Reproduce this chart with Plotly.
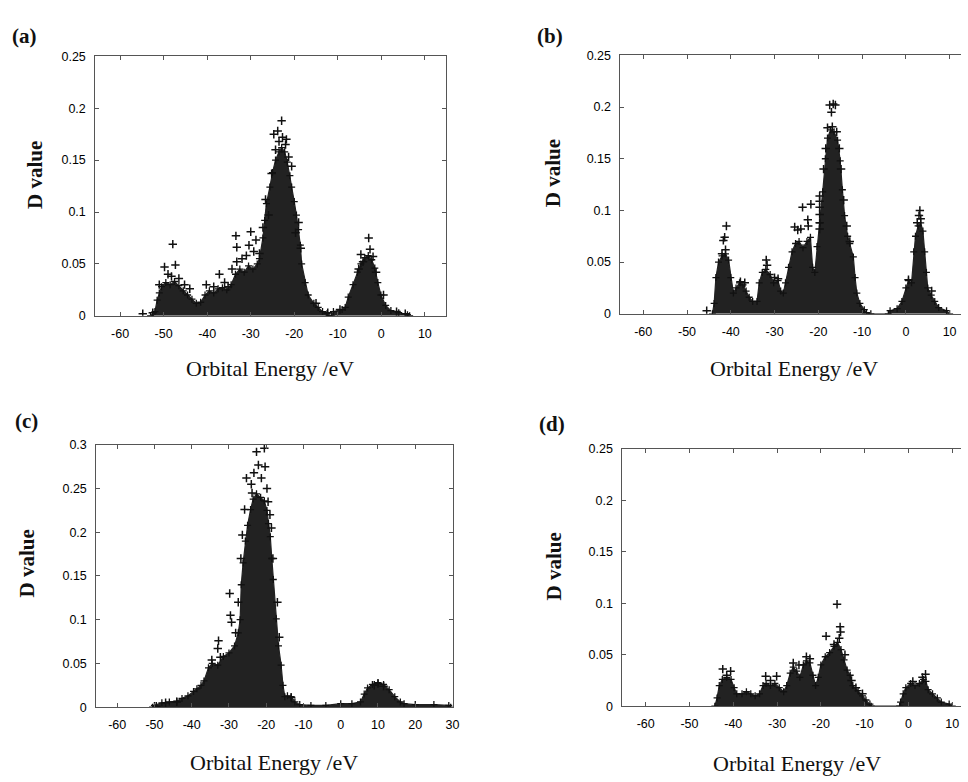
import plotly.graph_objects as go

# ---------------------------------------------------------------------------
# D value versus orbital energy, four systems (a)-(d).
# *_env_* : upper edge of the dense point cloud (energy in eV, D value)
# *_pts_* : individual points standing out above the cloud
# ---------------------------------------------------------------------------

a_env_e = [-53.0, -52.0, -51.5, -51.0, -50.5, -49.5, -48.5, -47.5, -46.5, -45.5,
           -44.5, -43.5, -42.5, -41.5, -40.5, -39.5, -38.5, -37.5, -36.5, -35.5,
           -34.5, -33.5, -32.5, -31.5, -30.5, -29.5, -28.5, -28.0, -27.2, -26.8,
           -26.4, -25.6, -25.0, -24.3, -23.5, -22.9, -22.2, -21.6, -21.0, -20.6,
           -20.0, -19.5, -19.0, -18.6, -18.3, -17.5, -16.8, -15.5, -14.5, -13.5,
           -12.5, -12.0, -11.5, -11.0, -9.0, -8.3, -7.6, -6.5, -5.5, -4.7,
           -3.8, -3.0, -2.2, -1.5, -0.8, -0.1, 1.0, 2.2, 4.0, 6.0, 6.5]
a_env_d = [0.0, 0.004, 0.015, 0.022, 0.028, 0.032, 0.030, 0.033, 0.029, 0.024,
           0.020, 0.016, 0.012, 0.013, 0.020, 0.024, 0.022, 0.026, 0.027, 0.025,
           0.030, 0.040, 0.045, 0.042, 0.048, 0.045, 0.050, 0.055, 0.075, 0.092,
           0.108, 0.124, 0.138, 0.150, 0.158, 0.162, 0.158, 0.148, 0.135, 0.124,
           0.110, 0.097, 0.083, 0.068, 0.050, 0.032, 0.020, 0.012, 0.008, 0.004,
           0.002, 0.0, 0.0, 0.004, 0.006, 0.008, 0.018, 0.030, 0.042, 0.050,
           0.056, 0.058, 0.054, 0.046, 0.032, 0.020, 0.010, 0.005, 0.003, 0.001, 0.0]
a_pts_e = [-47.9, -49.8, -47.3, -49.0, -48.2, -46.5, -45.2, -44.0, -51.0, -37.2,
           -40.2, -38.5, -36.0, -35.2, -33.4, -30.0, -28.8, -33.2, -30.4, -32.0,
           -33.2, -29.3, -28.0, -34.3, -31.0, -22.9, -24.7, -22.7, -21.3, -23.5,
           -22.0, -24.3, -20.6, -25.2, -25.9, -19.7, -26.6, -19.0, -27.2, -18.5,
           -23.8, -21.8, -2.9, -2.6, -4.7, -1.9, -4.2, -5.2, -1.2, 0.5,
           -54.8, -52.5, -15.0, -12.3, -9.5, 3.5, 5.5]
a_pts_d = [0.069, 0.047, 0.049, 0.040, 0.038, 0.036, 0.030, 0.026, 0.030, 0.040,
           0.030, 0.028, 0.032, 0.028, 0.077, 0.081, 0.073, 0.066, 0.068, 0.055,
           0.052, 0.062, 0.060, 0.045, 0.058, 0.188, 0.175, 0.172, 0.153, 0.168,
           0.165, 0.160, 0.144, 0.137, 0.097, 0.080, 0.112, 0.090, 0.085, 0.065,
           0.178, 0.170, 0.075, 0.064, 0.059, 0.057, 0.052, 0.045, 0.042, 0.020,
           0.002, 0.003, 0.012, 0.003, 0.006, 0.004, 0.002]

b_env_e = [-44.2, -43.8, -43.4, -42.8, -42.0, -41.2, -40.5, -40.0, -39.4, -38.8,
           -38.0, -37.2, -36.5, -35.8, -35.0, -34.0, -33.5, -32.8, -32.0, -31.0,
           -30.2, -29.2, -28.6, -28.0, -27.5, -26.8, -26.0, -25.2, -24.4, -23.5,
           -22.6, -21.8, -21.3, -20.8, -20.3, -19.7, -19.0, -18.4, -17.9, -17.2,
           -16.4, -15.6, -15.0, -14.5, -14.0, -13.3, -12.8, -12.0, -11.6, -11.2,
           -10.5, -9.5, -9.0, -8.0, -4.0, -3.6, -2.0, -0.9, 0.0, 0.6,
           1.3, 1.8, 2.2, 2.8, 3.4, 3.9, 4.3, 4.7, 5.0, 5.8,
           6.6, 7.5, 9.3, 10.0]
b_env_d = [0.0, 0.010, 0.035, 0.050, 0.056, 0.058, 0.052, 0.035, 0.020, 0.025,
           0.030, 0.028, 0.022, 0.016, 0.012, 0.012, 0.030, 0.040, 0.043, 0.038,
           0.030, 0.032, 0.022, 0.020, 0.030, 0.045, 0.060, 0.068, 0.070, 0.064,
           0.070, 0.074, 0.045, 0.040, 0.065, 0.088, 0.118, 0.150, 0.170, 0.178,
           0.176, 0.168, 0.148, 0.120, 0.095, 0.075, 0.068, 0.055, 0.035, 0.020,
           0.010, 0.004, 0.001, 0.0, 0.0, 0.003, 0.005, 0.012, 0.025, 0.032,
           0.030, 0.060, 0.075, 0.085, 0.088, 0.080, 0.060, 0.040, 0.025, 0.018,
           0.012, 0.006, 0.003, 0.0]
b_pts_e = [-17.4, -16.1, -17.0, -16.6, -17.9, -16.8, -15.8, -18.3, -15.2, -14.8,
           -18.8, -14.2, -13.5, -12.8, -23.6, -21.7, -22.4, -22.3, -19.7, -19.7,
           -19.7, -19.7, -19.7, -19.7, -25.4, -24.7, -24.0, -41.0, -41.7, -41.4,
           -41.2, -42.0, -31.9, -31.7, -29.2, -30.0, -37.8, -36.8, -45.5, 3.2,
           3.0, 3.4, 2.6, 5.9, 0.6]
b_pts_d = [0.202, 0.202, 0.195, 0.203, 0.180, 0.181, 0.176, 0.160, 0.160, 0.140,
           0.140, 0.110, 0.085, 0.070, 0.103, 0.106, 0.091, 0.085, 0.114, 0.109,
           0.103, 0.096, 0.088, 0.082, 0.084, 0.081, 0.082, 0.085, 0.071, 0.074,
           0.062, 0.058, 0.052, 0.047, 0.034, 0.035, 0.031, 0.030, 0.003, 0.100,
           0.095, 0.092, 0.088, 0.022, 0.033]

c_env_e = [-50.5, -50.0, -48.0, -46.0, -44.0, -42.6, -41.0, -39.5, -38.6, -37.5,
           -36.7, -35.5, -34.5, -33.0, -31.5, -30.0, -28.5, -27.5, -27.0, -26.7,
           -26.2, -25.6, -25.0, -24.2, -23.5, -22.6, -21.5, -20.5, -19.8, -19.4,
           -18.9, -18.5, -18.1, -17.3, -16.7, -16.0, -15.5, -15.0, -14.3, -13.3,
           -12.3, -11.0, -8.0, -4.0, 0.0, 3.0, 5.3, 6.3, 7.2, 8.5,
           10.0, 11.5, 13.0, 14.5, 16.0, 17.0, 20.0, 25.0, 29.0, 29.5]
c_env_d = [0.0, 0.002, 0.005, 0.006, 0.007, 0.010, 0.013, 0.018, 0.021, 0.025,
           0.030, 0.045, 0.050, 0.048, 0.058, 0.062, 0.070, 0.085, 0.100, 0.140,
           0.165, 0.190, 0.208, 0.226, 0.238, 0.244, 0.240, 0.236, 0.225, 0.210,
           0.195, 0.170, 0.146, 0.101, 0.070, 0.048, 0.025, 0.012, 0.013, 0.012,
           0.006, 0.003, 0.002, 0.002, 0.004, 0.004, 0.006, 0.015, 0.022, 0.026,
           0.028, 0.026, 0.020, 0.012, 0.006, 0.004, 0.003, 0.003, 0.002, 0.0]
c_pts_e = [-20.5, -22.6, -22.1, -20.3, -25.3, -23.3, -21.3, -24.0, -19.8, -23.8,
           -19.5, -25.8, -19.0, -26.4, -18.6, -26.8, -18.2, -29.8, -29.6, -29.3,
           -32.8, -33.0, -34.6, -32.3, -28.2, -27.5, -17.0, -16.5, -13.3, -49.5,
           -47.0, -44.0, 10.0, 9.0, 11.5]
c_pts_d = [0.296, 0.292, 0.277, 0.275, 0.262, 0.268, 0.262, 0.255, 0.250, 0.245,
           0.235, 0.226, 0.220, 0.197, 0.205, 0.170, 0.170, 0.130, 0.105, 0.097,
           0.076, 0.067, 0.054, 0.057, 0.085, 0.120, 0.120, 0.080, 0.011, 0.001,
           0.005, 0.006, 0.027, 0.025, 0.024]

d_env_e = [-44.2, -43.7, -43.2, -42.5, -41.5, -40.5, -39.8, -39.2, -38.0, -37.0,
           -36.0, -35.0, -34.0, -33.2, -32.5, -31.5, -30.5, -29.5, -28.5, -27.8,
           -27.0, -26.3, -25.5, -24.8, -24.0, -23.3, -22.5, -21.8, -21.2, -20.6,
           -20.0, -19.0, -18.0, -17.0, -16.2, -15.4, -14.7, -14.0, -13.3, -12.7,
           -11.5, -10.5, -9.7, -8.8, -8.5, -2.0, -1.8, -1.2, -0.6, 0.5,
           1.5, 2.5, 3.4, 4.0, 4.5, 5.5, 6.6, 7.5, 9.3, 10.0]
d_env_d = [0.0, 0.008, 0.020, 0.026, 0.028, 0.026, 0.018, 0.012, 0.012, 0.014,
           0.012, 0.010, 0.012, 0.020, 0.022, 0.020, 0.022, 0.018, 0.014, 0.020,
           0.032, 0.038, 0.034, 0.028, 0.040, 0.044, 0.042, 0.030, 0.020, 0.028,
           0.040, 0.048, 0.052, 0.058, 0.062, 0.055, 0.045, 0.035, 0.030, 0.020,
           0.015, 0.010, 0.006, 0.002, 0.0, 0.0, 0.004, 0.012, 0.018, 0.022,
           0.020, 0.022, 0.026, 0.024, 0.016, 0.012, 0.008, 0.004, 0.002, 0.0]
d_pts_e = [-16.3, -15.6, -15.5, -15.8, -18.8, -17.0, -14.5, -23.3, -22.5, -26.3,
           -25.0, -32.6, -30.1, -31.5, -42.4, -40.6, -41.5, 3.9, 3.2, 1.0,
           -13.0, -12.0, -10.5]
d_pts_d = [0.099, 0.077, 0.072, 0.066, 0.068, 0.060, 0.050, 0.048, 0.046, 0.042,
           0.040, 0.029, 0.029, 0.025, 0.036, 0.034, 0.030, 0.031, 0.028, 0.024,
           0.025, 0.018, 0.012]

panel_labels = ["(a)", "(b)", "(c)", "(d)"]
x_title = "Orbital Energy /eV"
y_title = "D value"
x_tick_vals = [-60, -50, -40, -30, -20, -10, 0, 10, 20, 30]
x_tick_text = ["-60", "-50", "-40", "-30", "-20", "-10", "0", "10", "20", "30"]

W, H = 968, 782
INK = "#111111"
CLOUD = "#222222"
FRAME = "#555555"

# panel geometry in pixels: (left, right, top, bottom), axis ranges
panels = [
    dict(env=(a_env_e, a_env_d), pts=(a_pts_e, a_pts_d), box=(96, 449, 51, 315),
         xr=[-65.7, 14.8], yr=[0, 0.2502], ymirror="ticks",
         label=(25, 30), ytitle=(35, 172), xtitle=(272, 369)),
    dict(env=(b_env_e, b_env_d), pts=(b_pts_e, b_pts_d), box=(625, 968, 50, 313),
         xr=[-65.2, 12.6], yr=[0, 0.2502], ymirror=False,
         label=(554, 30), ytitle=(557, 170), xtitle=(800, 369)),
    dict(env=(c_env_e, c_env_d), pts=(c_pts_e, c_pts_d), box=(97, 456, 446, 713),
         xr=[-65.6, 30.05], yr=[0, 0.3003], ymirror="ticks",
         label=(27, 422), ytitle=(27, 567), xtitle=(276, 769)),
    dict(env=(d_env_e, d_env_d), pts=(d_pts_e, d_pts_d), box=(627, 968, 450, 712),
         xr=[-65.3, 12.0], yr=[0, 0.2502], ymirror=False,
         label=(556, 425), ytitle=(558, 570), xtitle=(803, 770)),
]

fig = go.Figure()
annotations = []
layout_axes = {}

for i, p in enumerate(panels):
    n = "" if i == 0 else str(i + 1)
    xa, ya = "x" + n, "y" + n
    left, right, top, bottom = p["box"]

    # dense cloud of points: filled down to zero
    fig.add_trace(go.Scatter(
        x=p["env"][0], y=p["env"][1], xaxis=xa, yaxis=ya,
        mode="lines+markers", fill="tozeroy", fillcolor=CLOUD,
        line=dict(color=CLOUD, width=1.2),
        marker=dict(symbol="cross-thin", size=5, line=dict(color=INK, width=1.3)),
        showlegend=False, hoverinfo="x+y"))
    # individual points
    fig.add_trace(go.Scatter(
        x=p["pts"][0], y=p["pts"][1], xaxis=xa, yaxis=ya, mode="markers",
        marker=dict(symbol="cross-thin", size=6, line=dict(color=INK, width=1.5)),
        showlegend=False, hoverinfo="x+y"))

    common = dict(showline=True, linecolor=FRAME, linewidth=1, ticks="inside",
                  ticklen=4, tickcolor=FRAME, tickwidth=1, showgrid=False,
                  zeroline=False,
                  tickfont=dict(family="Liberation Sans, Arial, sans-serif",
                                size=12.5, color="#000000"))
    layout_axes["xaxis" + n] = dict(
        common, domain=[left / W, right / W], range=p["xr"], anchor=ya,
        tickmode="array", tickvals=x_tick_vals, ticktext=x_tick_text,
        mirror="ticks", ticklabelstandoff=6)
    layout_axes["yaxis" + n] = dict(
        common, domain=[1 - bottom / H, 1 - top / H], range=p["yr"], anchor=xa,
        dtick=0.05, tick0=0, mirror=p["ymirror"], ticklabelstandoff=6)

    lx, ly = p["label"]
    annotations.append(dict(text="<b>" + panel_labels[i] + "</b>", x=lx / W, y=1 - ly / H,
                            xref="paper", yref="paper", showarrow=False,
                            xanchor="center", yanchor="middle",
                            font=dict(family="Liberation Serif, Times New Roman, serif",
                                      size=21, color=INK)))
    tx, ty = p["ytitle"]
    annotations.append(dict(text="<b>" + y_title + "</b>", x=tx / W, y=1 - ty / H,
                            xref="paper", yref="paper", showarrow=False, textangle=-90,
                            xanchor="center", yanchor="middle",
                            font=dict(family="Liberation Serif, Times New Roman, serif",
                                      size=21, color=INK)))
    tx, ty = p["xtitle"]
    annotations.append(dict(text=x_title, x=tx / W, y=1 - ty / H,
                            xref="paper", yref="paper", showarrow=False,
                            xanchor="center", yanchor="middle",
                            font=dict(family="Liberation Serif, Times New Roman, serif",
                                      size=22, color=INK)))

fig.update_layout(
    width=W, height=H, margin=dict(l=0, r=0, t=0, b=0),
    paper_bgcolor="white", plot_bgcolor="white",
    annotations=annotations, **layout_axes)

fig.write_html("out.html")
